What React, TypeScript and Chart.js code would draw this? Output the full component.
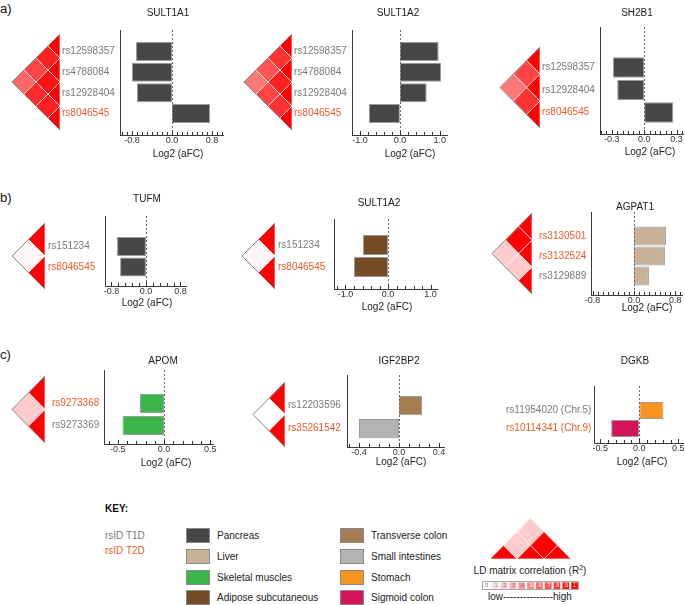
import React, { useEffect, useRef } from 'react';
import { Chart, registerables } from 'chart.js';
Chart.register(...registerables);

const FONT = '"Liberation Sans", Arial, Helvetica, sans-serif';
const T1D_COLOR = '#7a7a7a';
const T2D_COLOR = '#f05a28';

// ---- tissues ----
const tissueNames = ['Pancreas', 'Liver', 'Skeletal muscles', 'Adipose subcutaneous', 'Transverse colon', 'Small intestines', 'Stomach', 'Sigmoid colon'];
const tissueColors = ['#474747', '#c7b299', '#39b54a', '#754c24', '#a67c52', '#b3b3b3', '#f7941d', '#d4145a'];

// ---- a) ----
const sult1a1Snps = ['rs12598357', 'rs4788084', 'rs12928404', 'rs8046545'];
const sult1a1Traits = ['T1D', 'T1D', 'T1D', 'T2D'];
const sult1a1Values = [-0.72, -0.80, -0.70, 0.76];
const sult1a1Tissues = ['Pancreas', 'Pancreas', 'Pancreas', 'Pancreas'];
const sult1a1LD = [[0.87, 0.73, 0.6], [0.93, 0.83], [0.87]];

const sult1a2aSnps = ['rs12598357', 'rs4788084', 'rs12928404', 'rs8046545'];
const sult1a2aTraits = ['T1D', 'T1D', 'T1D', 'T2D'];
const sult1a2aValues = [0.97, 1.03, 0.67, -0.78];
const sult1a2aTissues = ['Pancreas', 'Pancreas', 'Pancreas', 'Pancreas'];
const sult1a2aLD = [[0.8, 0.67, 0.53], [0.87, 0.73], [0.8]];

const sh2b1Snps = ['rs12598357', 'rs12928404', 'rs8046545'];
const sh2b1Traits = ['T1D', 'T1D', 'T2D'];
const sh2b1Values = [-0.29, -0.25, 0.27];
const sh2b1Tissues = ['Pancreas', 'Pancreas', 'Pancreas'];
const sh2b1LD = [[0.73, 0.53], [0.8]];

// ---- b) ----
const tufmSnps = ['rs151234', 'rs8046545'];
const tufmTraits = ['T1D', 'T2D'];
const tufmValues = [-0.67, -0.60];
const tufmTissues = ['Pancreas', 'Pancreas'];
const tufmLD = [[0.03]];

const sult1a2bSnps = ['rs151234', 'rs8046545'];
const sult1a2bTraits = ['T1D', 'T2D'];
const sult1a2bValues = [-0.59, -0.80];
const sult1a2bTissues = ['Adipose subcutaneous', 'Adipose subcutaneous'];
const sult1a2bLD = [[0.03]];

const agpat1Snps = ['rs3130501', 'rs3132524', 'rs3129889'];
const agpat1Traits = ['T2D', 'T2D', 'T1D'];
const agpat1Values = [0.62, 0.60, 0.29];
const agpat1Tissues = ['Liver', 'Liver', 'Liver'];
const agpat1LD = [[1.0, 0.2], [0.2]];

// ---- c) ----
const apomSnps = ['rs9273368', 'rs9273369'];
const apomTraits = ['T2D', 'T1D'];
const apomValues = [-0.26, -0.45];
const apomTissues = ['Skeletal muscles', 'Skeletal muscles'];
const apomLD = [[0.2]];

const igf2bp2Snps = ['rs12203596', 'rs35261542'];
const igf2bp2Traits = ['T1D', 'T2D'];
const igf2bp2Values = [0.23, -0.40];
const igf2bp2Tissues = ['Transverse colon', 'Small intestines'];
const igf2bp2LD = [[0.0]];

const dgkbSnps = ['rs11954020 (Chr.5)', 'rs10114341 (Chr.9)'];
const dgkbTraits = ['T1D', 'T2D'];
const dgkbValues = [0.31, -0.36];
const dgkbTissues = ['Stomach', 'Sigmoid colon'];

// ---- LD legend ----
const ldLegendMatrix = [[0.2, 0.2], [1.0]];
const ldScaleValues = [0, 0.1, 0.2, 0.3, 0.4, 0.5, 0.6, 0.7, 0.8, 0.9, 1];
const ldScaleLabels = ['0', '.1', '.2', '.3', '.4', '.5', '.6', '.7', '.8', '.9', '1'];

const tissueColor = (t: string) => tissueColors[tissueNames.indexOf(t)];
const traitColor = (t: string) => (t === 'T2D' ? T2D_COLOR : T1D_COLOR);
const ldColor = (r: number) => {
  const g = Math.round(255 * (1 - r));
  return `rgb(255,${g},${g})`;
};

const panels = [
  { title: 'SULT1A1', snps: sult1a1Snps, traits: sult1a1Traits, values: sult1a1Values, tissues: sult1a1Tissues, ld: sult1a1LD,
    geo: { L: 120, T: 30, R: 223, B: 135, labelX: 62, titleX: 168, titleY: 13, xlabX: 178, xlabY: 154, xMin: -1.04, xMax: 1.02, yMin: -1.04, yMax: 4.04, majors: [-0.8, 0, 0.8], minor: 0.1, barPct: 0.92, tri: { right: 60, top: 34, bottom: 130 } } },
  { title: 'SULT1A2', snps: sult1a2aSnps, traits: sult1a2aTraits, values: sult1a2aValues, tissues: sult1a2aTissues, ld: sult1a2aLD,
    geo: { L: 352, T: 30, R: 447, B: 135, labelX: 294, titleX: 398, titleY: 13, xlabX: 410, xlabY: 154, xMin: -1.2, xMax: 1.18, yMin: -1.04, yMax: 4.04, majors: [-1, 0, 1], minor: 0.2, barPct: 0.92, tri: { right: 292, top: 34, bottom: 130 } } },
  { title: 'SH2B1', snps: sh2b1Snps, traits: sh2b1Traits, values: sh2b1Values, tissues: sh2b1Tissues, ld: sh2b1LD,
    geo: { L: 600, T: 27, R: 683, B: 134, labelX: 542, titleX: 637, titleY: 13, xlabX: 650, xlabY: 152, xMin: -0.41, xMax: 0.36, yMin: -1.8, yMax: 2.96, majors: [-0.3, 0, 0.3], minor: 0.05, barPct: 0.91, tri: { right: 540, top: 47, bottom: 128 } } },
  { title: 'TUFM', snps: tufmSnps, traits: tufmTraits, values: tufmValues, tissues: tufmTissues, ld: tufmLD,
    geo: { L: 105, T: 216, R: 186, B: 286, labelX: 48, titleX: 147, titleY: 199, xlabX: 147, xlabY: 303, xMin: -0.95, xMax: 0.93, yMin: -1.49, yMax: 1.93, majors: [-0.8, 0, 0.8], minor: 0.16, barPct: 0.93, tri: { right: 45, top: 223, bottom: 289 } } },
  { title: 'SULT1A2', snps: sult1a2bSnps, traits: sult1a2bTraits, values: sult1a2bValues, tissues: sult1a2bTissues, ld: sult1a2bLD,
    geo: { L: 334, T: 219, R: 437, B: 289, labelX: 278, titleX: 379, titleY: 203, xlabX: 387, xlabY: 307, xMin: -1.27, xMax: 1.15, yMin: -1.18, yMax: 2.0, majors: [-1, 0, 1], minor: 0.2, barPct: 0.91, tri: { right: 275, top: 223, bottom: 289 } } },
  { title: 'AGPAT1', snps: agpat1Snps, traits: agpat1Traits, values: agpat1Values, tissues: agpat1Tissues, ld: agpat1LD,
    geo: { L: 591, T: 212, R: 682, B: 295, labelX: 539, titleX: 635, titleY: 207, xlabX: 647, xlabY: 308, xMin: -0.83, xMax: 0.93, yMin: -1.2, yMax: 2.95, majors: [-0.8, 0, 0.8], minor: 0.1, barPct: 0.95, tri: { right: 532, top: 213, bottom: 294 } } },
  { title: 'APOM', snps: apomSnps, traits: apomTraits, values: apomValues, tissues: apomTissues, ld: apomLD,
    geo: { L: 104, T: 370, R: 213, B: 444, labelX: 52, titleX: 163, titleY: 361, xlabX: 166, xlabY: 463, xMin: -0.65, xMax: 0.53, yMin: -1.52, yMax: 1.84, majors: [-0.5, 0, 0.5], minor: 0.1, barPct: 0.86, tri: { right: 45, top: 376, bottom: 443 } } },
  { title: 'IGF2BP2', snps: igf2bp2Snps, traits: igf2bp2Traits, values: igf2bp2Values, tissues: igf2bp2Tissues, ld: igf2bp2LD,
    geo: { L: 347, T: 375, R: 444, B: 447, labelX: 288, titleX: 399, titleY: 361, xlabX: 401, xlabY: 462, xMin: -0.52, xMax: 0.45, yMin: -1.33, yMax: 1.8, majors: [-0.4, 0, 0.4], minor: 0.1, barPct: 0.83, tri: { right: 285, top: 382, bottom: 447 } } },
  { title: 'DGKB', snps: dgkbSnps, traits: dgkbTraits, values: dgkbValues, tissues: dgkbTissues, ld: null,
    geo: { L: 594, T: 386, R: 683, B: 443, labelX: 506, titleX: 635, titleY: 361, xlabX: 642, xlabY: 462, xMin: -0.58, xMax: 0.56, yMin: -1.36, yMax: 1.8, majors: [-0.5, 0, 0.5], minor: 0.1, barPct: 0.94, tri: null } },
];

function BarPanel({ p }: any) {
  const ref = useRef<HTMLCanvasElement>(null);
  const g = p.geo;
  const left = g.labelX;
  const top = g.titleY - 8;
  const padR = 10;
  const w = g.R - left + padR;
  const h = g.xlabY + 8 - top;
  useEffect(() => {
    const deco = {
      id: 'panelDeco',
      afterDatasetsDraw(chart: any) {
        const { ctx, chartArea: a } = chart;
        const x = chart.scales.x;
        ctx.save();
        const x0 = Math.round(x.getPixelForValue(0)) + 0.5;
        ctx.strokeStyle = '#666';
        ctx.lineWidth = 1;
        ctx.setLineDash([2, 2]);
        ctx.beginPath();
        ctx.moveTo(x0, a.top);
        ctx.lineTo(x0, a.bottom);
        ctx.stroke();
        ctx.setLineDash([]);
        ctx.strokeStyle = '#333';
        const start = Math.ceil((x.min - 1e-9) / g.minor);
        const end = Math.floor((x.max + 1e-9) / g.minor);
        for (let k = start; k <= end; k++) {
          const v = k * g.minor;
          const major = g.majors.some((m: number) => Math.abs(m - v) < 1e-6);
          const px = Math.round(x.getPixelForValue(v)) + 0.5;
          ctx.beginPath();
          ctx.moveTo(px, a.bottom);
          ctx.lineTo(px, a.bottom - (major ? 4 : 3));
          ctx.stroke();
        }
        ctx.fillStyle = '#1a1a1a';
        ctx.font = `10px ${FONT}`;
        ctx.textAlign = 'center';
        ctx.textBaseline = 'middle';
        ctx.fillText(p.title, g.titleX - left, g.titleY - top);
        ctx.fillStyle = '#222';
        ctx.fillText('Log2 (aFC)', g.xlabX - left, g.xlabY - top);
        ctx.restore();
      },
    };
    const chart = new Chart(ref.current as HTMLCanvasElement, {
      type: 'bar',
      data: {
        datasets: [
          {
            data: p.values.map((v: number, i: number) => ({ x: v, y: i })),
            backgroundColor: p.tissues.map(tissueColor),
            borderColor: '#9c9c9c',
            borderWidth: 1,
            borderSkipped: false,
            barPercentage: g.barPct,
            categoryPercentage: 1,
          } as any,
        ],
      },
      options: {
        indexAxis: 'y',
        animation: false,
        responsive: false,
        events: [],
        layout: { padding: { top: g.T - top, right: padR, bottom: 0, left: 0 } },
        plugins: { legend: { display: false }, tooltip: { enabled: false }, title: { display: false } },
        scales: {
          x: {
            type: 'linear',
            min: g.xMin,
            max: g.xMax,
            offset: false,
            afterBuildTicks: (s: any) => { s.ticks = g.majors.map((v: number) => ({ value: v })); },
            afterFit: (s: any) => { s.height = h - (g.B - top); s.paddingLeft = 0; s.paddingRight = 0; s.paddingTop = 0; s.paddingBottom = 0; },
            ticks: { callback: (v: any) => Number(v).toFixed(1), font: { family: FONT, size: 9 }, color: '#333', padding: 0, maxRotation: 0, autoSkip: false },
            grid: { display: false, drawTicks: false },
            border: { display: true, color: '#3a3a3a', width: 1 },
          },
          y: {
            type: 'linear',
            min: g.yMin,
            max: g.yMax,
            reverse: true,
            offset: false,
            afterBuildTicks: (s: any) => { s.ticks = p.snps.map((_: any, i: number) => ({ value: i })); },
            afterFit: (s: any) => { s.width = g.L - left; s.paddingLeft = 0; s.paddingRight = 0; s.paddingTop = 0; s.paddingBottom = 0; },
            ticks: {
              callback: (v: any) => p.snps[Number(v)],
              color: (c: any) => traitColor(p.traits[c.index]),
              font: { family: FONT, size: 10 },
              crossAlign: 'far',
              padding: 4,
              autoSkip: false,
            },
            grid: { display: false, drawTicks: false, offset: false },
            border: { display: true, color: '#3a3a3a', width: 1 },
          },
        },
      } as any,
      plugins: [deco],
    });
    return () => chart.destroy();
  }, []);
  return <canvas ref={ref} width={w} height={h} style={{ position: 'absolute', left, top, width: w, height: h }} />;
}

function LDTriangle({ n, ld, orient, x, y, w, h, outline }: any) {
  const ref = useRef<HTMLCanvasElement>(null);
  useEffect(() => {
    const pad = 2;
    const drawer = {
      id: 'ldCells',
      afterDraw(chart: any) {
        const { ctx } = chart;
        const xs = chart.scales.x;
        const ys = chart.scales.y;
        const P = (u: number, v: number) =>
          orient === 'left' ? [xs.getPixelForValue(v), ys.getPixelForValue(u)] : [xs.getPixelForValue(u), ys.getPixelForValue(v)];
        ctx.save();
        for (let i = 0; i < n; i++) {
          for (let j = i; j < n; j++) {
            const r = i === j ? 1 : ld[i][j - i - 1];
            const u = (i + j + 1) / 2;
            const v = (j - i) / 2;
            const pts = i === j ? [[i, 0], [u, 0.5], [i + 1, 0]] : [[u - 0.5, v], [u, v + 0.5], [u + 0.5, v], [u, v - 0.5]];
            ctx.beginPath();
            pts.forEach((pt, k) => {
              const [px, py] = P(pt[0], pt[1]);
              if (k === 0) ctx.moveTo(px, py);
              else ctx.lineTo(px, py);
            });
            ctx.closePath();
            ctx.fillStyle = ldColor(r);
            ctx.fill();
            ctx.strokeStyle = 'rgba(255,255,255,0.85)';
            ctx.lineWidth = 0.8;
            ctx.stroke();
          }
        }
        if (outline) {
          ctx.strokeStyle = '#808080';
          ctx.lineWidth = 1;
          ctx.beginPath();
          const a = P(0, 0), b = P(n / 2, n / 2), c = P(n, 0);
          ctx.moveTo(a[0], a[1]);
          ctx.lineTo(b[0], b[1]);
          ctx.lineTo(c[0], c[1]);
          ctx.stroke();
        }
        ctx.restore();
      },
    };
    const scales: any =
      orient === 'left'
        ? { x: { type: 'linear', display: false, min: 0, max: n / 2, reverse: true }, y: { type: 'linear', display: false, min: 0, max: n, reverse: true } }
        : { x: { type: 'linear', display: false, min: 0, max: n }, y: { type: 'linear', display: false, min: 0, max: n / 2 } };
    const chart = new Chart(ref.current as HTMLCanvasElement, {
      type: 'scatter',
      data: { datasets: [] },
      options: { animation: false, responsive: false, events: [], layout: { padding: pad }, plugins: { legend: { display: false }, tooltip: { enabled: false } }, scales } as any,
      plugins: [drawer],
    });
    return () => chart.destroy();
  }, []);
  return <canvas ref={ref} width={w + 4} height={h + 4} style={{ position: 'absolute', left: x - 2, top: y - 2, width: w + 4, height: h + 4 }} />;
}

function LDScale({ x, y, w, h }: any) {
  const ref = useRef<HTMLCanvasElement>(null);
  useEffect(() => {
    const labeler = {
      id: 'ldScaleLabels',
      afterDatasetsDraw(chart: any) {
        const { ctx } = chart;
        const meta = chart.getDatasetMeta(0);
        ctx.save();
        ctx.font = `5.5px ${FONT}`;
        ctx.textAlign = 'center';
        ctx.textBaseline = 'middle';
        meta.data.forEach((el: any, i: number) => {
          ctx.fillStyle = ldScaleValues[i] >= 0.5 ? 'rgba(255,255,255,0.9)' : '#777';
          ctx.fillText(ldScaleLabels[i], el.x, (el.y + el.base) / 2);
        });
        const a = chart.chartArea;
        ctx.strokeStyle = '#aaa';
        ctx.lineWidth = 1;
        ctx.strokeRect(a.left + 0.5, a.top + 0.5, a.right - a.left - 1, a.bottom - a.top - 1);
        ctx.restore();
      },
    };
    const chart = new Chart(ref.current as HTMLCanvasElement, {
      type: 'bar',
      data: {
        labels: ldScaleLabels,
        datasets: [{ data: ldScaleValues.map(() => 1), backgroundColor: ldScaleValues.map(ldColor), borderColor: '#c8c8c8', borderWidth: 0.5, barPercentage: 1, categoryPercentage: 0.86 } as any],
      },
      options: {
        animation: false, responsive: false, events: [],
        layout: { padding: 0 },
        plugins: { legend: { display: false }, tooltip: { enabled: false } },
        scales: { x: { display: false }, y: { display: false, min: 0, max: 1.12 } },
      } as any,
      plugins: [labeler],
    });
    return () => chart.destroy();
  }, []);
  return <canvas ref={ref} width={w} height={h} style={{ position: 'absolute', left: x, top: y, width: w, height: h }} />;
}

function Txt({ x, cy, children, size = 10, color = '#222', bold = false, align = 'left', w = 200 }: any) {
  const lh = Math.round(size * 1.4);
  const style: any = {
    position: 'absolute',
    top: cy - lh / 2,
    height: lh,
    lineHeight: `${lh}px`,
    fontSize: size,
    fontFamily: FONT,
    color,
    fontWeight: bold ? 'bold' : 'normal',
    whiteSpace: 'nowrap',
  };
  if (align === 'center') {
    style.left = x - w / 2;
    style.width = w;
    style.textAlign = 'center';
  } else {
    style.left = x;
  }
  return <div style={style}>{children}</div>;
}

const keyRowTops = [528, 549, 570, 590];

export default function App() {
  return (
    <div style={{ position: 'absolute', left: 0, top: 0, width: 685, height: 605, overflow: 'hidden', background: '#fff' }}>
      <Txt x={0} cy={9} size={13} color="#111">a)</Txt>
      <Txt x={0} cy={198} size={13} color="#111">b)</Txt>
      <Txt x={0} cy={355} size={13} color="#111">c)</Txt>
      {panels.map((p, i) => (
        <React.Fragment key={i}>
          {p.ld && p.geo.tri && (
            <LDTriangle
              n={p.snps.length}
              ld={p.ld}
              orient="left"
              x={p.geo.tri.right - (p.geo.tri.bottom - p.geo.tri.top) / 2}
              y={p.geo.tri.top}
              w={(p.geo.tri.bottom - p.geo.tri.top) / 2}
              h={p.geo.tri.bottom - p.geo.tri.top}
              outline
            />
          )}
          <BarPanel p={p} />
        </React.Fragment>
      ))}
      <Txt x={105} cy={509} bold color="#111">KEY:</Txt>
      <Txt x={105} cy={536} color={T1D_COLOR}>rsID T1D</Txt>
      <Txt x={105} cy={551} color={T2D_COLOR}>rsID T2D</Txt>
      {tissueNames.map((t, i) => {
        const col = Math.floor(i / 4);
        const row = i % 4;
        const sx = col === 0 ? 186 : 340;
        const tx = col === 0 ? 217 : 371;
        const top = keyRowTops[row];
        return (
          <React.Fragment key={t}>
            <div style={{ position: 'absolute', left: sx, top, width: 24, height: 15, boxSizing: 'border-box', background: tissueColors[i], border: '1px solid #8a8a8a' }} />
            <Txt x={tx} cy={top + 7.5}>{t}</Txt>
          </React.Fragment>
        );
      })}
      <LDTriangle n={3} ld={ldLegendMatrix} orient="up" x={490} y={518} w={81} h={40.5} outline={false} />
      <Txt x={530} cy={571} align="center">LD matrix correlation (R<sup style={{ fontSize: 7, lineHeight: 0 }}>2</sup>)</Txt>
      <LDScale x={482} y={581} w={97} h={9} />
      <Txt x={530} cy={597} align="center">low---------------high</Txt>
    </div>
  );
}
